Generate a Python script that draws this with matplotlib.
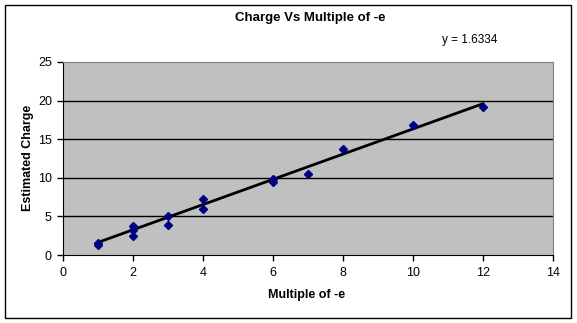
import numpy as np
import matplotlib.pyplot as plt
from matplotlib.patches import Rectangle

plt.rcParams['font.family'] = ['Liberation Sans', 'DejaVu Sans']

# data
multiple = [1, 1, 2, 2, 2, 3, 3, 4, 4, 6, 6, 7, 8, 10, 12]
charge = [1.5, 1.3, 3.7, 3.2, 2.4, 5.0, 3.9, 7.2, 6.0, 9.9, 9.4, 10.5, 13.7, 16.9, 19.2]
slope = 1.6334
x_ticks = [0, 2, 4, 6, 8, 10, 12, 14]
y_ticks = [0, 5, 10, 15, 20, 25]

fig = plt.figure(figsize=(5.77, 3.23), dpi=100)
ax = fig.add_axes([63/577, 1-255/323, (553-63)/577, (255-62)/323])

# outer chart border
fig.patches.append(Rectangle((5/577, 5/323), 566/577, 313/323, transform=fig.transFigure,
                             fill=False, edgecolor='black', linewidth=1.0))

ax.set_facecolor('#C0C0C0')
for y in y_ticks[1:-1]:
    ax.axhline(y, color='black', linewidth=1.0, zorder=1)

xf = np.array([min(multiple), max(multiple)])
ax.plot(xf, slope*xf, color='black', linewidth=2, zorder=2)
ax.plot(multiple, charge, 'D', color='#000080', markersize=4.5, zorder=3)

ax.set_xlim(0, 14)
ax.set_ylim(0, 25)
ax.set_xticks(x_ticks)
ax.set_yticks(y_ticks)
ax.tick_params(direction='out', length=4, width=1, labelsize=9, color='black')
ax.tick_params(axis='x', pad=5)
ax.tick_params(axis='y', pad=4)
for s in ['top', 'right']:
    ax.spines[s].set_color('#808080')
for s in ['left', 'bottom']:
    ax.spines[s].set_color('black')

fig.text(310/577, 1-18/323, 'Charge Vs Multiple of -e', ha='center', va='center',
         fontsize=9.5, fontweight='bold')
fig.text(442/577, 1-40/323, 'y = 1.6334', ha='left', va='center', fontsize=8.5)
fig.text(307/577, 1-295/323, 'Multiple of -e', ha='center', va='center',
         fontsize=9, fontweight='bold')
fig.text(28/577, 1-158/323, 'Estimated Charge', ha='center', va='center',
         rotation=90, fontsize=9, fontweight='bold')

fig.savefig('out.png', dpi=100)
